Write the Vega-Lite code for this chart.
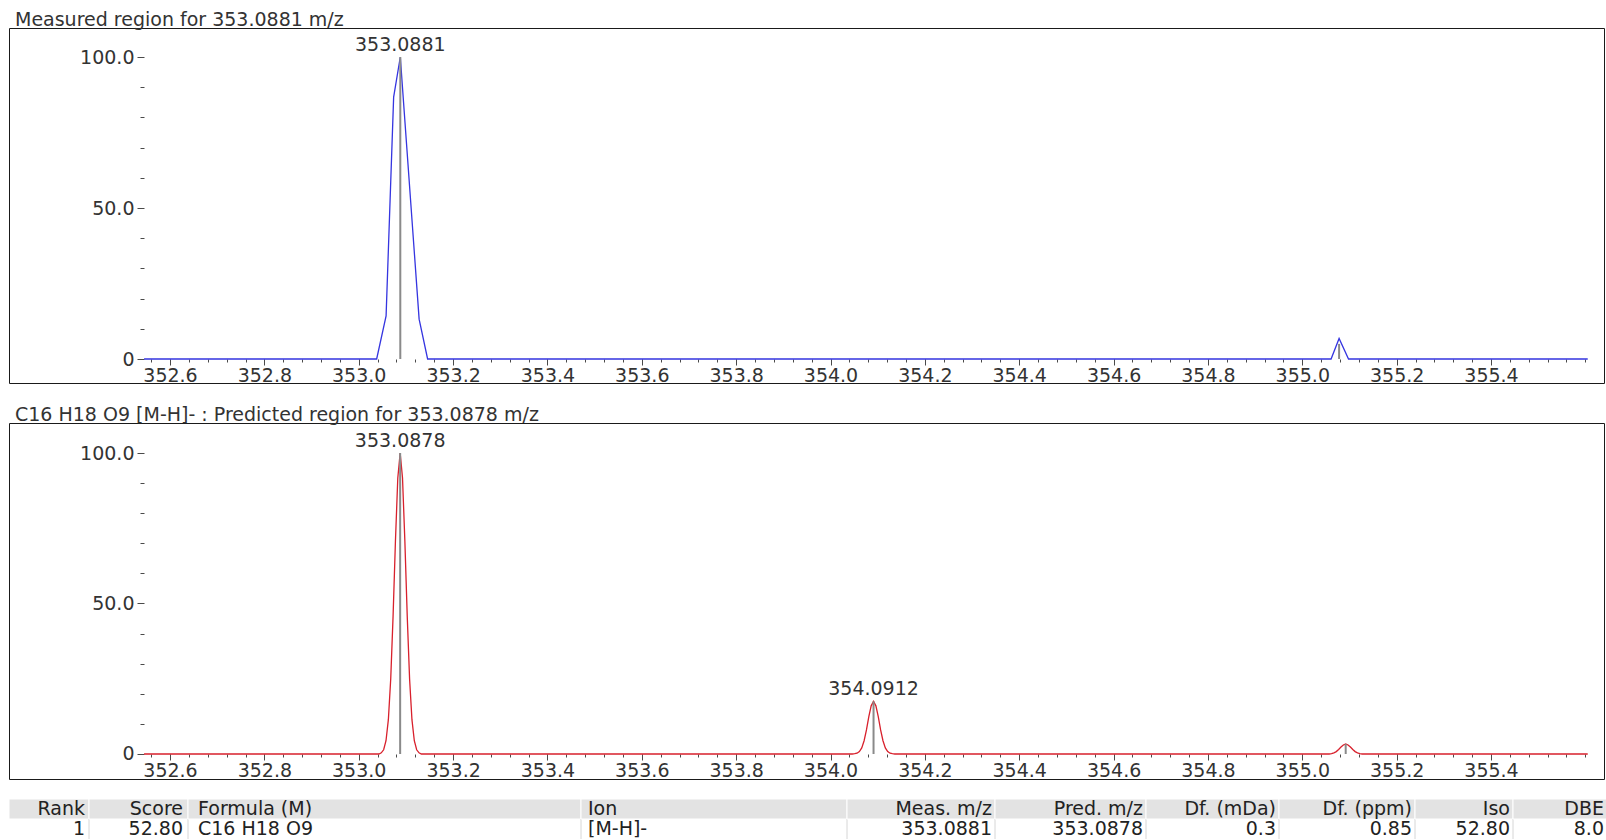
{
  "$schema": "https://vega.github.io/schema/vega-lite/v6.json",
  "background": "white",
  "padding": {"left": 8, "top": 10, "right": 0, "bottom": 0},
  "config": {
    "font": "DejaVu Sans",
    "view": {"stroke": "#1a1a1a", "strokeWidth": 1},
    "text": {"font": "DejaVu Sans"},
    "axis": {"labelFont": "DejaVu Sans", "labelFontSize": 19, "labelColor": "#333333", "grid": false, "title": null, "domain": false, "tickColor": "#4a4a4a", "tickWidth": 1, "labelOverlap": false, "labelFlush": false},
    "title": {"font": "DejaVu Sans", "fontSize": 19, "fontWeight": "normal", "color": "#333333", "anchor": "start", "frame": "group", "offset": -2, "dx": 6, "baseline": "alphabetic"}
  },
  "datasets": {
    "measured": [
      {"mz": 352.545, "intensity": 0},
      {"mz": 353.038, "intensity": 0},
      {"mz": 353.058, "intensity": 14.3},
      {"mz": 353.074, "intensity": 86.7},
      {"mz": 353.0881, "intensity": 100},
      {"mz": 353.128, "intensity": 13.2},
      {"mz": 353.146, "intensity": 0},
      {"mz": 355.061, "intensity": 0},
      {"mz": 355.078, "intensity": 6.8},
      {"mz": 355.098, "intensity": 0},
      {"mz": 355.605, "intensity": 0}
    ],
    "measuredPeaks": [
      {"mz": 353.0881, "intensity": 100, "label": "353.0881"},
      {"mz": 355.078, "intensity": 5, "label": ""}
    ],
    "predicted": [
      {"mz": 352.545, "intensity": 0},
      {"mz": 353.0428, "intensity": 0},
      {"mz": 353.0478, "intensity": 0.4},
      {"mz": 353.0528, "intensity": 1.4},
      {"mz": 353.0578, "intensity": 4.4},
      {"mz": 353.0628, "intensity": 11.4},
      {"mz": 353.0678, "intensity": 24.9},
      {"mz": 353.0728, "intensity": 45.8},
      {"mz": 353.0778, "intensity": 70.7},
      {"mz": 353.0828, "intensity": 91.7},
      {"mz": 353.0878, "intensity": 100},
      {"mz": 353.0928, "intensity": 91.7},
      {"mz": 353.0978, "intensity": 70.7},
      {"mz": 353.1028, "intensity": 45.8},
      {"mz": 353.1078, "intensity": 24.9},
      {"mz": 353.1128, "intensity": 11.4},
      {"mz": 353.1178, "intensity": 4.4},
      {"mz": 353.1228, "intensity": 1.4},
      {"mz": 353.1278, "intensity": 0.4},
      {"mz": 353.1328, "intensity": 0},
      {"mz": 354.0462, "intensity": 0},
      {"mz": 354.0512, "intensity": 0.1},
      {"mz": 354.0562, "intensity": 0.25},
      {"mz": 354.0612, "intensity": 0.8},
      {"mz": 354.0662, "intensity": 2.0},
      {"mz": 354.0712, "intensity": 4.4},
      {"mz": 354.0762, "intensity": 8.0},
      {"mz": 354.0812, "intensity": 12.4},
      {"mz": 354.0862, "intensity": 16.0},
      {"mz": 354.0912, "intensity": 17.5},
      {"mz": 354.0962, "intensity": 16.0},
      {"mz": 354.1012, "intensity": 12.4},
      {"mz": 354.1062, "intensity": 8.0},
      {"mz": 354.1112, "intensity": 4.4},
      {"mz": 354.1162, "intensity": 2.0},
      {"mz": 354.1212, "intensity": 0.8},
      {"mz": 354.1262, "intensity": 0.25},
      {"mz": 354.1312, "intensity": 0.1},
      {"mz": 354.1362, "intensity": 0},
      {"mz": 355.057, "intensity": 0},
      {"mz": 355.062, "intensity": 0.15},
      {"mz": 355.067, "intensity": 0.4},
      {"mz": 355.072, "intensity": 0.8},
      {"mz": 355.077, "intensity": 1.5},
      {"mz": 355.082, "intensity": 2.3},
      {"mz": 355.087, "intensity": 3.0},
      {"mz": 355.092, "intensity": 3.3},
      {"mz": 355.097, "intensity": 3.0},
      {"mz": 355.102, "intensity": 2.3},
      {"mz": 355.107, "intensity": 1.5},
      {"mz": 355.112, "intensity": 0.8},
      {"mz": 355.117, "intensity": 0.4},
      {"mz": 355.122, "intensity": 0.15},
      {"mz": 355.127, "intensity": 0},
      {"mz": 355.605, "intensity": 0}
    ],
    "predictedPeaks": [
      {"mz": 353.0878, "intensity": 100, "label": "353.0878"},
      {"mz": 354.0912, "intensity": 17.5, "label": "354.0912"},
      {"mz": 355.092, "intensity": 3.3, "label": ""}
    ],
    "table": [
      {"col": "Rank", "row": "h", "text": "Rank"}, {"col": "Rank", "row": "v", "text": "1"},
      {"col": "Score", "row": "h", "text": "Score"}, {"col": "Score", "row": "v", "text": "52.80"},
      {"col": "Formula", "row": "h", "text": "Formula (M)"}, {"col": "Formula", "row": "v", "text": "C16 H18 O9"},
      {"col": "Ion", "row": "h", "text": "Ion"}, {"col": "Ion", "row": "v", "text": "[M-H]-"},
      {"col": "Meas", "row": "h", "text": "Meas. m/z"}, {"col": "Meas", "row": "v", "text": "353.0881"},
      {"col": "Pred", "row": "h", "text": "Pred. m/z"}, {"col": "Pred", "row": "v", "text": "353.0878"},
      {"col": "mDa", "row": "h", "text": "Df. (mDa)"}, {"col": "mDa", "row": "v", "text": "0.3"},
      {"col": "ppm", "row": "h", "text": "Df. (ppm)"}, {"col": "ppm", "row": "v", "text": "0.85"},
      {"col": "Iso", "row": "h", "text": "Iso"}, {"col": "Iso", "row": "v", "text": "52.80"},
      {"col": "DBE", "row": "h", "text": "DBE"}, {"col": "DBE", "row": "v", "text": "8.0"}
    ]
  },
  "bounds": "full",
  "spacing": 17,
  "vconcat": [
    {
      "bounds": "flush",
      "spacing": 40,
      "vconcat": [
        {
          "title": {"text": "Measured region for 353.0881 m/z"},
          "width": 1595,
          "height": 355,
          "resolve": {"axis": {"x": "independent", "y": "independent"}},
          "layer": [
            {
              "mark": {"type": "rule", "color": "#6a6a6a", "strokeWidth": 1},
              "encoding": {
                "x": {"datum": 352.545, "type": "quantitative", "scale": {"domain": [352.2587, 355.6395], "nice": false, "zero": false},
                  "axis": {"orient": "bottom", "offset": -24, "values": [352.6, 352.8, 353.0, 353.2, 353.4, 353.6, 353.8, 354.0, 354.2, 354.4, 354.6, 354.8, 355.0, 355.2, 355.4], "format": ".1f", "tickSize": 6, "labelPadding": 1}},
                "x2": {"datum": 355.605},
                "y": {"datum": 0, "type": "quantitative", "scale": {"domain": [-7.947, 109.603], "nice": false, "zero": false},
                  "axis": {"orient": "left", "offset": -135, "values": [0, 50, 100], "labelExpr": "datum.value == 0 ? '0' : format(datum.value, '.1f')", "tickSize": 7, "labelPadding": 3}}
              }
            },
            {
              "mark": {"type": "rule", "color": "#7a7a7a", "strokeWidth": 2},
              "encoding": {
                "x": {"datum": 352.545, "type": "quantitative", "scale": {"domain": [352.2587, 355.6395], "nice": false, "zero": false},
                  "axis": {"orient": "bottom", "offset": -24, "labels": false, "tickSize": 3, "values": [352.56,352.6,352.64,352.68,352.72,352.76,352.8,352.84,352.88,352.92,352.96,353,353.04,353.08,353.12,353.16,353.2,353.24,353.28,353.32,353.36,353.4,353.44,353.48,353.52,353.56,353.6,353.64,353.68,353.72,353.76,353.8,353.84,353.88,353.92,353.96,354,354.04,354.08,354.12,354.16,354.2,354.24,354.28,354.32,354.36,354.4,354.44,354.48,354.52,354.56,354.6,354.64,354.68,354.72,354.76,354.8,354.84,354.88,354.92,354.96,355,355.04,355.08,355.12,355.16,355.2,355.24,355.28,355.32,355.36,355.4,355.44,355.48,355.52,355.56,355.6]}},
                "y": {"datum": 0, "type": "quantitative", "scale": {"domain": [-7.947, 109.603], "nice": false, "zero": false},
                  "axis": {"orient": "left", "offset": -135, "labels": false, "tickSize": 4, "values": [10, 20, 30, 40, 60, 70, 80, 90]}},
                "y2": {"datum": 100}
              }
            },
            {
              "data": {"name": "measured"},
              "mark": {"type": "line", "color": "#3535e0", "strokeWidth": 1.3},
              "encoding": {
                "x": {"field": "mz", "type": "quantitative", "scale": {"domain": [352.2587, 355.6395], "nice": false, "zero": false}, "axis": null},
                "y": {"field": "intensity", "type": "quantitative", "scale": {"domain": [-7.947, 109.603], "nice": false, "zero": false}, "axis": null}
              }
            },
            {
              "data": {"name": "measuredPeaks"},
              "mark": {"type": "rule", "color": "#8a8a8a", "strokeWidth": 2},
              "encoding": {
                "x": {"field": "mz", "type": "quantitative", "scale": {"domain": [352.2587, 355.6395], "nice": false, "zero": false}, "axis": null},
                "y": {"field": "intensity", "type": "quantitative", "scale": {"domain": [-7.947, 109.603], "nice": false, "zero": false}, "axis": null},
                "y2": {"datum": 0}
              }
            },
            {
              "data": {"name": "measuredPeaks"},
              "transform": [{"filter": "datum.label != ''"}],
              "mark": {"type": "text", "baseline": "alphabetic", "dy": -6, "fontSize": 19, "color": "#333333"},
              "encoding": {
                "x": {"field": "mz", "type": "quantitative", "scale": {"domain": [352.2587, 355.6395], "nice": false, "zero": false}, "axis": null},
                "y": {"field": "intensity", "type": "quantitative", "scale": {"domain": [-7.947, 109.603], "nice": false, "zero": false}, "axis": null},
                "text": {"field": "label"}
              }
            }
          ]
        },
        {
          "title": {"text": "C16 H18 O9 [M-H]- : Predicted region for 353.0878 m/z"},
          "width": 1595,
          "height": 356,
          "resolve": {"axis": {"x": "independent", "y": "independent"}},
          "layer": [
            {
              "mark": {"type": "rule", "color": "#6a6a6a", "strokeWidth": 1},
              "encoding": {
                "x": {"datum": 352.545, "type": "quantitative", "scale": {"domain": [352.2587, 355.6395], "nice": false, "zero": false},
                  "axis": {"orient": "bottom", "offset": -25, "values": [352.6, 352.8, 353.0, 353.2, 353.4, 353.6, 353.8, 354.0, 354.2, 354.4, 354.6, 354.8, 355.0, 355.2, 355.4], "format": ".1f", "tickSize": 6, "labelPadding": 1}},
                "x2": {"datum": 355.605},
                "y": {"datum": 0, "type": "quantitative", "scale": {"domain": [-8.306, 109.967], "nice": false, "zero": false},
                  "axis": {"orient": "left", "offset": -135, "values": [0, 50, 100], "labelExpr": "datum.value == 0 ? '0' : format(datum.value, '.1f')", "tickSize": 7, "labelPadding": 3}}
              }
            },
            {
              "mark": {"type": "rule", "color": "#7a7a7a", "strokeWidth": 2},
              "encoding": {
                "x": {"datum": 352.545, "type": "quantitative", "scale": {"domain": [352.2587, 355.6395], "nice": false, "zero": false},
                  "axis": {"orient": "bottom", "offset": -25, "labels": false, "tickSize": 3, "values": [352.56,352.6,352.64,352.68,352.72,352.76,352.8,352.84,352.88,352.92,352.96,353,353.04,353.08,353.12,353.16,353.2,353.24,353.28,353.32,353.36,353.4,353.44,353.48,353.52,353.56,353.6,353.64,353.68,353.72,353.76,353.8,353.84,353.88,353.92,353.96,354,354.04,354.08,354.12,354.16,354.2,354.24,354.28,354.32,354.36,354.4,354.44,354.48,354.52,354.56,354.6,354.64,354.68,354.72,354.76,354.8,354.84,354.88,354.92,354.96,355,355.04,355.08,355.12,355.16,355.2,355.24,355.28,355.32,355.36,355.4,355.44,355.48,355.52,355.56,355.6]}},
                "y": {"datum": 0, "type": "quantitative", "scale": {"domain": [-8.306, 109.967], "nice": false, "zero": false},
                  "axis": {"orient": "left", "offset": -135, "labels": false, "tickSize": 4, "values": [10, 20, 30, 40, 60, 70, 80, 90]}},
                "y2": {"datum": 100}
              }
            },
            {
              "data": {"name": "predicted"},
              "mark": {"type": "line", "color": "#d8202c", "strokeWidth": 1.3},
              "encoding": {
                "x": {"field": "mz", "type": "quantitative", "scale": {"domain": [352.2587, 355.6395], "nice": false, "zero": false}, "axis": null},
                "y": {"field": "intensity", "type": "quantitative", "scale": {"domain": [-8.306, 109.967], "nice": false, "zero": false}, "axis": null}
              }
            },
            {
              "data": {"name": "predictedPeaks"},
              "mark": {"type": "rule", "color": "#8a8a8a", "strokeWidth": 2},
              "encoding": {
                "x": {"field": "mz", "type": "quantitative", "scale": {"domain": [352.2587, 355.6395], "nice": false, "zero": false}, "axis": null},
                "y": {"field": "intensity", "type": "quantitative", "scale": {"domain": [-8.306, 109.967], "nice": false, "zero": false}, "axis": null},
                "y2": {"datum": 0}
              }
            },
            {
              "data": {"name": "predictedPeaks"},
              "transform": [{"filter": "datum.label != ''"}],
              "mark": {"type": "text", "baseline": "alphabetic", "dy": -6, "fontSize": 19, "color": "#333333"},
              "encoding": {
                "x": {"field": "mz", "type": "quantitative", "scale": {"domain": [352.2587, 355.6395], "nice": false, "zero": false}, "axis": null},
                "y": {"field": "intensity", "type": "quantitative", "scale": {"domain": [-8.306, 109.967], "nice": false, "zero": false}, "axis": null},
                "text": {"field": "label"}
              }
            }
          ]
        }
      ]
    },
    {
      "bounds": "flush",
      "spacing": 0,
      "hconcat": [
        {"width": 80, "height": 40, "view": {"stroke": null}, "data": {"name": "table"}, "transform": [{"filter": "datum.col == 'Rank'"}],
          "layer": [
            {"transform": [{"filter": "datum.row == 'h'"}], "mark": {"type": "bar", "color": "#e3e3e3", "stroke": "#ffffff", "strokeWidth": 1},
              "encoding": {"y": {"field": "row", "type": "nominal", "scale": {"domain": ["h", "v"], "paddingInner": 0, "paddingOuter": 0}, "axis": null}, "x": {"value": 0}, "x2": {"value": "width"}}},
            {"transform": [{"filter": "datum.row == 'v'"}], "mark": {"type": "rule", "color": "#d6d6d6"},
              "encoding": {"x": {"value": "width"}, "y": {"field": "row", "type": "nominal", "bandPosition": 0, "scale": {"domain": ["h", "v"], "paddingInner": 0, "paddingOuter": 0}, "axis": null}, "y2": {"value": "height"}}},
            {"mark": {"type": "text", "align": "right", "baseline": "middle", "dx": -4, "fontSize": 19, "color": "#222222"},
              "encoding": {"x": {"value": "width"}, "y": {"field": "row", "type": "nominal", "scale": {"domain": ["h", "v"], "paddingInner": 0, "paddingOuter": 0}, "axis": null}, "text": {"field": "text"}}}
          ]},
        {"width": 99, "height": 40, "view": {"stroke": null}, "data": {"name": "table"}, "transform": [{"filter": "datum.col == 'Score'"}],
          "layer": [
            {"transform": [{"filter": "datum.row == 'h'"}], "mark": {"type": "bar", "color": "#e3e3e3", "stroke": "#ffffff", "strokeWidth": 1},
              "encoding": {"y": {"field": "row", "type": "nominal", "scale": {"domain": ["h", "v"], "paddingInner": 0, "paddingOuter": 0}, "axis": null}, "x": {"value": 0}, "x2": {"value": "width"}}},
            {"transform": [{"filter": "datum.row == 'v'"}], "mark": {"type": "rule", "color": "#d6d6d6"},
              "encoding": {"x": {"value": "width"}, "y": {"field": "row", "type": "nominal", "bandPosition": 0, "scale": {"domain": ["h", "v"], "paddingInner": 0, "paddingOuter": 0}, "axis": null}, "y2": {"value": "height"}}},
            {"mark": {"type": "text", "align": "right", "baseline": "middle", "dx": -5, "fontSize": 19, "color": "#222222"},
              "encoding": {"x": {"value": "width"}, "y": {"field": "row", "type": "nominal", "scale": {"domain": ["h", "v"], "paddingInner": 0, "paddingOuter": 0}, "axis": null}, "text": {"field": "text"}}}
          ]},
        {"width": 393, "height": 40, "view": {"stroke": null}, "data": {"name": "table"}, "transform": [{"filter": "datum.col == 'Formula'"}],
          "layer": [
            {"transform": [{"filter": "datum.row == 'h'"}], "mark": {"type": "bar", "color": "#e3e3e3", "stroke": "#ffffff", "strokeWidth": 1},
              "encoding": {"y": {"field": "row", "type": "nominal", "scale": {"domain": ["h", "v"], "paddingInner": 0, "paddingOuter": 0}, "axis": null}, "x": {"value": 0}, "x2": {"value": "width"}}},
            {"transform": [{"filter": "datum.row == 'v'"}], "mark": {"type": "rule", "color": "#d6d6d6"},
              "encoding": {"x": {"value": "width"}, "y": {"field": "row", "type": "nominal", "bandPosition": 0, "scale": {"domain": ["h", "v"], "paddingInner": 0, "paddingOuter": 0}, "axis": null}, "y2": {"value": "height"}}},
            {"mark": {"type": "text", "align": "left", "baseline": "middle", "dx": 10, "fontSize": 19, "color": "#222222"},
              "encoding": {"x": {"value": 0}, "y": {"field": "row", "type": "nominal", "scale": {"domain": ["h", "v"], "paddingInner": 0, "paddingOuter": 0}, "axis": null}, "text": {"field": "text"}}}
          ]},
        {"width": 266, "height": 40, "view": {"stroke": null}, "data": {"name": "table"}, "transform": [{"filter": "datum.col == 'Ion'"}],
          "layer": [
            {"transform": [{"filter": "datum.row == 'h'"}], "mark": {"type": "bar", "color": "#e3e3e3", "stroke": "#ffffff", "strokeWidth": 1},
              "encoding": {"y": {"field": "row", "type": "nominal", "scale": {"domain": ["h", "v"], "paddingInner": 0, "paddingOuter": 0}, "axis": null}, "x": {"value": 0}, "x2": {"value": "width"}}},
            {"transform": [{"filter": "datum.row == 'v'"}], "mark": {"type": "rule", "color": "#d6d6d6"},
              "encoding": {"x": {"value": "width"}, "y": {"field": "row", "type": "nominal", "bandPosition": 0, "scale": {"domain": ["h", "v"], "paddingInner": 0, "paddingOuter": 0}, "axis": null}, "y2": {"value": "height"}}},
            {"mark": {"type": "text", "align": "left", "baseline": "middle", "dx": 7, "fontSize": 19, "color": "#222222"},
              "encoding": {"x": {"value": 0}, "y": {"field": "row", "type": "nominal", "scale": {"domain": ["h", "v"], "paddingInner": 0, "paddingOuter": 0}, "axis": null}, "text": {"field": "text"}}}
          ]},
        {"width": 148, "height": 40, "view": {"stroke": null}, "data": {"name": "table"}, "transform": [{"filter": "datum.col == 'Meas'"}],
          "layer": [
            {"transform": [{"filter": "datum.row == 'h'"}], "mark": {"type": "bar", "color": "#e3e3e3", "stroke": "#ffffff", "strokeWidth": 1},
              "encoding": {"y": {"field": "row", "type": "nominal", "scale": {"domain": ["h", "v"], "paddingInner": 0, "paddingOuter": 0}, "axis": null}, "x": {"value": 0}, "x2": {"value": "width"}}},
            {"transform": [{"filter": "datum.row == 'v'"}], "mark": {"type": "rule", "color": "#d6d6d6"},
              "encoding": {"x": {"value": "width"}, "y": {"field": "row", "type": "nominal", "bandPosition": 0, "scale": {"domain": ["h", "v"], "paddingInner": 0, "paddingOuter": 0}, "axis": null}, "y2": {"value": "height"}}},
            {"mark": {"type": "text", "align": "right", "baseline": "middle", "dx": -3, "fontSize": 19, "color": "#222222"},
              "encoding": {"x": {"value": "width"}, "y": {"field": "row", "type": "nominal", "scale": {"domain": ["h", "v"], "paddingInner": 0, "paddingOuter": 0}, "axis": null}, "text": {"field": "text"}}}
          ]},
        {"width": 151, "height": 40, "view": {"stroke": null}, "data": {"name": "table"}, "transform": [{"filter": "datum.col == 'Pred'"}],
          "layer": [
            {"transform": [{"filter": "datum.row == 'h'"}], "mark": {"type": "bar", "color": "#e3e3e3", "stroke": "#ffffff", "strokeWidth": 1},
              "encoding": {"y": {"field": "row", "type": "nominal", "scale": {"domain": ["h", "v"], "paddingInner": 0, "paddingOuter": 0}, "axis": null}, "x": {"value": 0}, "x2": {"value": "width"}}},
            {"transform": [{"filter": "datum.row == 'v'"}], "mark": {"type": "rule", "color": "#d6d6d6"},
              "encoding": {"x": {"value": "width"}, "y": {"field": "row", "type": "nominal", "bandPosition": 0, "scale": {"domain": ["h", "v"], "paddingInner": 0, "paddingOuter": 0}, "axis": null}, "y2": {"value": "height"}}},
            {"mark": {"type": "text", "align": "right", "baseline": "middle", "dx": -3, "fontSize": 19, "color": "#222222"},
              "encoding": {"x": {"value": "width"}, "y": {"field": "row", "type": "nominal", "scale": {"domain": ["h", "v"], "paddingInner": 0, "paddingOuter": 0}, "axis": null}, "text": {"field": "text"}}}
          ]},
        {"width": 133, "height": 40, "view": {"stroke": null}, "data": {"name": "table"}, "transform": [{"filter": "datum.col == 'mDa'"}],
          "layer": [
            {"transform": [{"filter": "datum.row == 'h'"}], "mark": {"type": "bar", "color": "#e3e3e3", "stroke": "#ffffff", "strokeWidth": 1},
              "encoding": {"y": {"field": "row", "type": "nominal", "scale": {"domain": ["h", "v"], "paddingInner": 0, "paddingOuter": 0}, "axis": null}, "x": {"value": 0}, "x2": {"value": "width"}}},
            {"transform": [{"filter": "datum.row == 'v'"}], "mark": {"type": "rule", "color": "#d6d6d6"},
              "encoding": {"x": {"value": "width"}, "y": {"field": "row", "type": "nominal", "bandPosition": 0, "scale": {"domain": ["h", "v"], "paddingInner": 0, "paddingOuter": 0}, "axis": null}, "y2": {"value": "height"}}},
            {"mark": {"type": "text", "align": "right", "baseline": "middle", "dx": -3, "fontSize": 19, "color": "#222222"},
              "encoding": {"x": {"value": "width"}, "y": {"field": "row", "type": "nominal", "scale": {"domain": ["h", "v"], "paddingInner": 0, "paddingOuter": 0}, "axis": null}, "text": {"field": "text"}}}
          ]},
        {"width": 136, "height": 40, "view": {"stroke": null}, "data": {"name": "table"}, "transform": [{"filter": "datum.col == 'ppm'"}],
          "layer": [
            {"transform": [{"filter": "datum.row == 'h'"}], "mark": {"type": "bar", "color": "#e3e3e3", "stroke": "#ffffff", "strokeWidth": 1},
              "encoding": {"y": {"field": "row", "type": "nominal", "scale": {"domain": ["h", "v"], "paddingInner": 0, "paddingOuter": 0}, "axis": null}, "x": {"value": 0}, "x2": {"value": "width"}}},
            {"transform": [{"filter": "datum.row == 'v'"}], "mark": {"type": "rule", "color": "#d6d6d6"},
              "encoding": {"x": {"value": "width"}, "y": {"field": "row", "type": "nominal", "bandPosition": 0, "scale": {"domain": ["h", "v"], "paddingInner": 0, "paddingOuter": 0}, "axis": null}, "y2": {"value": "height"}}},
            {"mark": {"type": "text", "align": "right", "baseline": "middle", "dx": -3, "fontSize": 19, "color": "#222222"},
              "encoding": {"x": {"value": "width"}, "y": {"field": "row", "type": "nominal", "scale": {"domain": ["h", "v"], "paddingInner": 0, "paddingOuter": 0}, "axis": null}, "text": {"field": "text"}}}
          ]},
        {"width": 98, "height": 40, "view": {"stroke": null}, "data": {"name": "table"}, "transform": [{"filter": "datum.col == 'Iso'"}],
          "layer": [
            {"transform": [{"filter": "datum.row == 'h'"}], "mark": {"type": "bar", "color": "#e3e3e3", "stroke": "#ffffff", "strokeWidth": 1},
              "encoding": {"y": {"field": "row", "type": "nominal", "scale": {"domain": ["h", "v"], "paddingInner": 0, "paddingOuter": 0}, "axis": null}, "x": {"value": 0}, "x2": {"value": "width"}}},
            {"transform": [{"filter": "datum.row == 'v'"}], "mark": {"type": "rule", "color": "#d6d6d6"},
              "encoding": {"x": {"value": "width"}, "y": {"field": "row", "type": "nominal", "bandPosition": 0, "scale": {"domain": ["h", "v"], "paddingInner": 0, "paddingOuter": 0}, "axis": null}, "y2": {"value": "height"}}},
            {"mark": {"type": "text", "align": "right", "baseline": "middle", "dx": -3, "fontSize": 19, "color": "#222222"},
              "encoding": {"x": {"value": "width"}, "y": {"field": "row", "type": "nominal", "scale": {"domain": ["h", "v"], "paddingInner": 0, "paddingOuter": 0}, "axis": null}, "text": {"field": "text"}}}
          ]},
        {"width": 94, "height": 40, "view": {"stroke": null}, "data": {"name": "table"}, "transform": [{"filter": "datum.col == 'DBE'"}],
          "layer": [
            {"transform": [{"filter": "datum.row == 'h'"}], "mark": {"type": "bar", "color": "#e3e3e3", "stroke": "#ffffff", "strokeWidth": 1},
              "encoding": {"y": {"field": "row", "type": "nominal", "scale": {"domain": ["h", "v"], "paddingInner": 0, "paddingOuter": 0}, "axis": null}, "x": {"value": 0}, "x2": {"value": "width"}}},
            {"mark": {"type": "text", "align": "right", "baseline": "middle", "dx": -3, "fontSize": 19, "color": "#222222"},
              "encoding": {"x": {"value": "width"}, "y": {"field": "row", "type": "nominal", "scale": {"domain": ["h", "v"], "paddingInner": 0, "paddingOuter": 0}, "axis": null}, "text": {"field": "text"}}}
          ]}
      ]
    }
  ]
}
